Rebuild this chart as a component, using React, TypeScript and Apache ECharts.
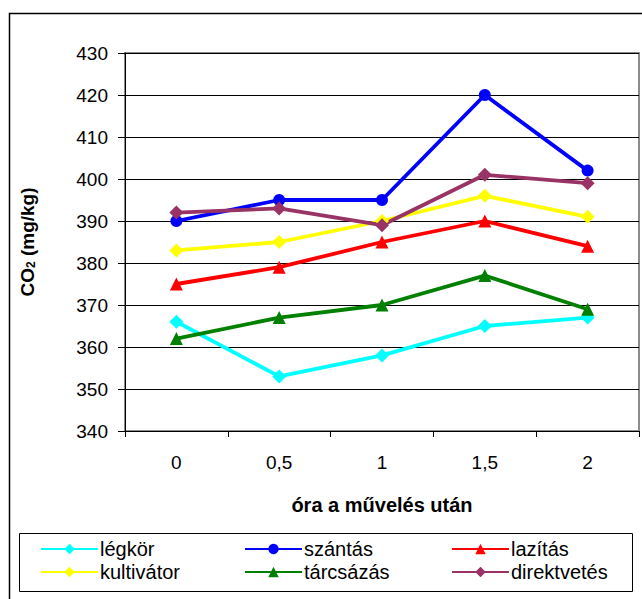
import React, { useEffect, useRef } from "react";
import * as echarts from "echarts";

const hours = ["0", "0,5", "1", "1,5", "2"];
const legkor = [366, 353, 358, 365, 367];
const szantas = [390, 395, 395, 420, 402];
const lazitas = [375, 379, 385, 390, 384];
const kultivator = [383, 385, 390, 396, 391];
const tarcsazas = [362, 367, 370, 377, 369];
const direktvetes = [392, 393, 389, 401, 399];

const FONT = "'Liberation Sans', Arial, sans-serif";

function line(name: string, data: number[], color: string, symbol: string, size: number) {
  return {
    name,
    type: "line",
    data,
    symbol,
    symbolSize: size,
    showAllSymbol: true,
    lineStyle: { color, width: 3.8 },
    itemStyle: { color },
  };
}

function legendColumn(left: number, names: string[]) {
  return {
    orient: "vertical",
    left,
    top: 539,
    itemGap: 3,
    itemWidth: 57,
    itemHeight: 13,
    padding: 0,
    data: names,
    textStyle: { fontFamily: FONT, fontSize: 20, color: "#000", padding: [0, 0, 0, -3] },
  };
}

export default function App() {
  const ref = useRef<HTMLDivElement>(null);

  useEffect(() => {
    const chart = echarts.init(ref.current!, undefined, { renderer: "svg" });
    chart.setOption({
      animation: false,
      backgroundColor: "#fff",
      textStyle: { fontFamily: FONT },
      grid: {
        left: 125,
        top: 53,
        width: 514,
        height: 378,
        show: true,
        borderColor: "#8c8c8c",
        borderWidth: 2,
        backgroundColor: "transparent",
      },
      legend: [
        legendColumn(40, ["légkör", "kultivátor"]),
        legendColumn(244, ["szántás", "tárcsázás"]),
        legendColumn(451, ["lazítás", "direktvetés"]),
      ],
      graphic: [
        {
          type: "rect",
          shape: { x: 9.5, y: 13.5, width: 660, height: 620 },
          style: { fill: "none", stroke: "#000", lineWidth: 1.5 },
          silent: true,
        },
        {
          type: "rect",
          shape: { x: 19.5, y: 533.5, width: 613, height: 58 },
          style: { fill: "none", stroke: "#000", lineWidth: 1 },
          silent: true,
        },
      ],
      xAxis: {
        type: "category",
        data: hours,
        boundaryGap: true,
        name: "óra a művelés után",
        nameLocation: "middle",
        nameGap: 64,
        nameTextStyle: { fontFamily: FONT, fontSize: 20, fontWeight: "bold", color: "#000" },
        axisLine: { lineStyle: { color: "#000", width: 1 } },
        axisTick: { show: true, length: 6, lineStyle: { color: "#000" } },
        axisLabel: { margin: 22, fontSize: 19, color: "#000", fontFamily: FONT },
        splitLine: { show: false },
      },
      yAxis: {
        type: "value",
        min: 340,
        max: 430,
        interval: 10,
        name: "CO{sub|2} (mg/kg)",
        nameLocation: "middle",
        nameGap: 88,
        nameRotate: 90,
        nameTextStyle: {
          fontFamily: FONT,
          fontSize: 19,
          fontWeight: "bold",
          color: "#000",
          rich: {
            sub: {
              fontFamily: FONT,
              fontSize: 12,
              fontWeight: "bold",
              color: "#000",
              verticalAlign: "bottom",
              padding: [8, 0, 0, 0],
            },
          },
        },
        axisLine: { show: true, lineStyle: { color: "#000", width: 1 } },
        axisTick: { show: true, length: 7, lineStyle: { color: "#000" } },
        axisLabel: { margin: 17, fontSize: 19, color: "#000", fontFamily: FONT },
        splitLine: { show: true, lineStyle: { color: "#000", width: 1 } },
      },
      series: [
        line("légkör", legkor, "#00ffff", "diamond", 14),
        line("szántás", szantas, "#0000ff", "circle", 12),
        line("lazítás", lazitas, "#ff0000", "triangle", 13),
        line("kultivátor", kultivator, "#ffff00", "diamond", 14),
        line("tárcsázás", tarcsazas, "#008000", "triangle", 13),
        line("direktvetés", direktvetes, "#993366", "diamond", 14),
      ],
    });
    return () => chart.dispose();
  }, []);

  return (
    <div
      ref={ref}
      style={{ position: "fixed", left: 0, top: 0, width: 642, height: 599 }}
    />
  );
}
